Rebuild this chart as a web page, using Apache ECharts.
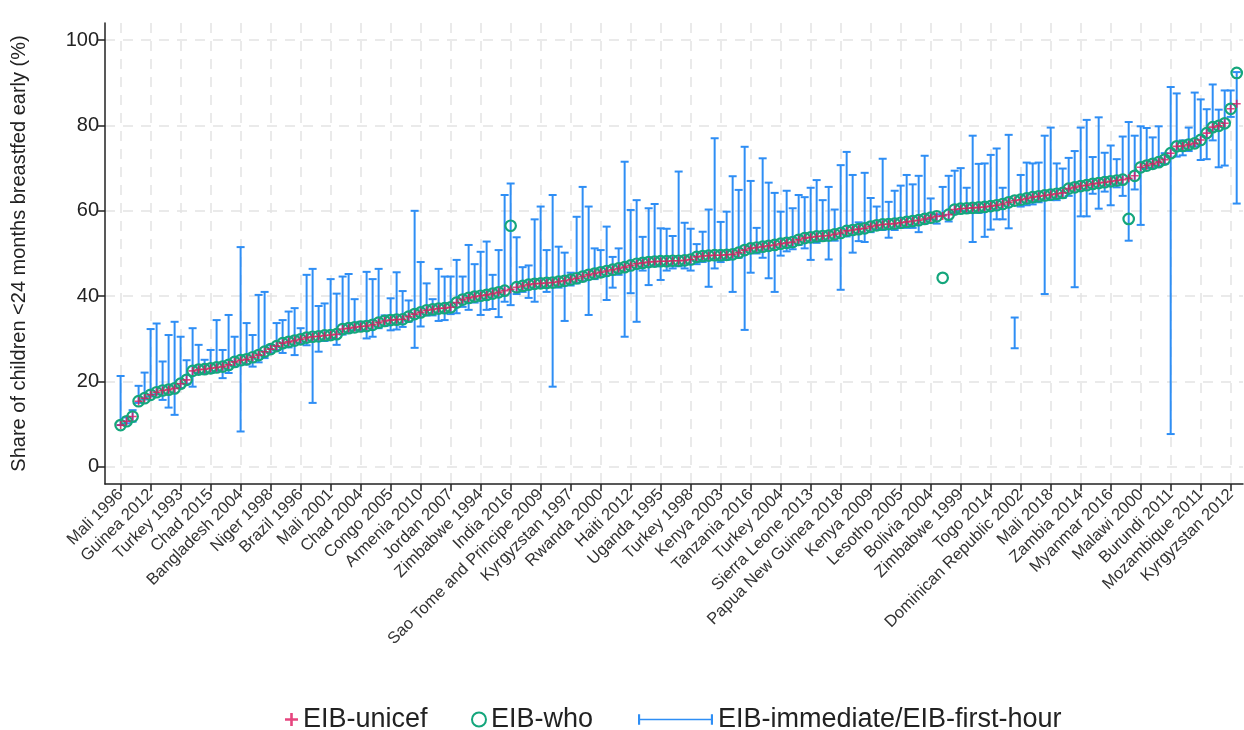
<!DOCTYPE html>
<html>
<head>
<meta charset="utf-8">
<script src="https://cdn.jsdelivr.net/npm/echarts@6/dist/echarts.min.js"></script>
<style>
html,body{margin:0;padding:0;background:#fff;}
#chart{width:1244px;height:730px;}
</style>
</head>
<body>
<div id="chart"></div>
<script>
// Labels shown every 5th survey along the x axis
const tickLabels = ["Mali 1996","Guinea 2012","Turkey 1993","Chad 2015","Bangladesh 2004","Niger 1998","Brazil 1996","Mali 2001","Chad 2004","Congo 2005","Armenia 2010","Jordan 2007","Zimbabwe 1994","India 2016","Sao Tome and Principe 2009","Kyrgyzstan 1997","Rwanda 2000","Haiti 2012","Uganda 1995","Turkey 1998","Kenya 2003","Tanzania 2016","Turkey 2004","Sierra Leone 2013","Papua New Guinea 2018","Kenya 2009","Lesotho 2005","Bolivia 2004","Zimbabwe 1999","Togo 2014","Dominican Republic 2002","Mali 2018","Zambia 2014","Myanmar 2016","Malawi 2000","Burundi 2011","Mozambique 2011","Kyrgyzstan 2012"];
const yTicks = [0,20,40,60,80,100];

// EIB-unicef (sorted)
const eibUnicef = [
9.8,10.7,11.8,15.4,16.1,16.9,17.5,17.9,18.1,18.4,
19.5,20.4,22.5,22.8,22.9,23.1,23.3,23.5,23.9,24.6,
25.0,25.2,25.7,26.2,27.0,27.6,28.3,29.0,29.3,29.6,
29.9,30.3,30.5,30.6,30.8,30.9,31.1,32.3,32.5,32.7,
32.9,33.0,33.3,33.8,34.2,34.4,34.5,34.6,35.2,35.8,
36.2,36.7,36.9,37.1,37.2,37.4,38.5,39.2,39.6,39.9,
40.1,40.3,40.6,40.9,41.3,41.6,42.1,42.4,42.7,42.9,
43.0,43.1,43.2,43.4,43.6,43.9,44.2,44.6,45.0,45.3,
45.6,45.9,46.2,46.5,46.8,47.2,47.6,47.8,48.0,48.1,
48.2,48.2,48.3,48.3,48.4,48.6,49.2,49.4,49.5,49.6,
49.6,49.7,49.8,50.2,50.8,51.2,51.4,51.6,51.8,52.0,
52.3,52.5,52.7,53.2,53.6,53.8,54.0,54.1,54.2,54.5,
54.8,55.3,55.5,55.7,55.9,56.3,56.6,56.8,56.9,57.0,
57.2,57.4,57.6,57.8,58.1,58.4,58.7,58.8,59.1,60.3,
60.5,60.6,60.7,60.8,60.9,61.1,61.3,61.6,62.0,62.4,
62.6,62.9,63.2,63.4,63.6,63.8,64.0,64.2,65.2,65.5,
65.8,66.0,66.3,66.5,66.7,66.9,67.1,67.3,67.6,68.2,
70.2,70.6,71.0,71.4,72.0,73.5,75.1,75.2,75.5,75.8,
76.6,78.2,79.6,79.9,80.5,83.9,85.1
];

// EIB-who
const eibWho = [
9.8,10.7,11.8,15.4,16.1,16.9,17.5,17.9,18.1,18.4,
19.5,20.4,22.5,22.8,22.9,23.1,23.3,23.5,23.9,24.6,
25.0,25.2,25.7,26.2,27.0,27.6,28.3,29.0,29.3,29.6,
29.9,30.3,30.5,30.6,30.8,30.9,31.1,32.3,32.5,32.7,
32.9,33.0,33.3,33.8,34.2,34.4,34.5,34.6,35.2,35.8,
36.2,36.7,36.9,37.1,37.2,37.4,38.5,39.2,39.6,39.9,
40.1,40.3,40.6,40.9,41.3,56.5,42.1,42.4,42.7,42.9,
43.0,43.1,43.2,43.4,43.6,43.9,44.2,44.6,45.0,45.3,
45.6,45.9,46.2,46.5,46.8,47.2,47.6,47.8,48.0,48.1,
48.2,48.2,48.3,48.3,48.4,48.6,49.2,49.4,49.5,49.6,
49.6,49.7,49.8,50.2,50.8,51.2,51.4,51.6,51.8,52.0,
52.3,52.5,52.7,53.2,53.6,53.8,54.0,54.1,54.2,54.5,
54.8,55.3,55.5,55.7,55.9,56.3,56.6,56.8,56.9,57.0,
57.2,57.4,57.6,57.8,58.1,58.4,58.7,44.3,59.1,60.3,
60.5,60.6,60.7,60.8,60.9,61.1,61.3,61.6,62.0,62.4,
62.6,62.9,63.2,63.4,63.6,63.8,64.0,64.2,65.2,65.5,
65.8,66.0,66.3,66.5,66.7,66.9,67.1,67.3,58.1,68.2,
70.2,70.6,71.0,71.4,72.0,73.5,75.1,75.2,75.5,75.8,
76.6,78.2,79.6,79.9,80.5,83.9,92.3
];

// EIB-immediate (low end of the bar)
const eibImmediate = [
9.8,10.2,10.6,15.0,15.8,16.5,17.0,15.7,13.9,12.2,
18.5,19.5,18.8,22.0,22.0,22.0,22.5,20.8,22.0,23.5,
8.3,24.0,23.5,24.5,25.5,26.8,27.4,26.7,28.0,26.2,
29.0,28.5,15.0,27.0,29.5,30.0,28.6,31.0,31.5,32.0,
32.0,30.1,30.5,32.5,33.0,32.0,32.2,32.8,34.0,27.9,
32.9,35.5,35.5,34.2,34.4,35.8,36.0,37.5,36.8,38.5,
35.6,36.8,37.0,35.1,38.7,37.9,40.5,41.0,39.6,38.7,
42.0,41.0,18.8,42.0,34.2,42.5,43.0,43.5,35.6,44.0,
44.5,39.1,42.0,45.0,30.5,40.7,34.0,46.0,42.6,47.0,
43.8,46.0,46.5,47.0,46.5,46.0,47.5,48.0,42.2,46.5,
48.0,48.5,41.0,49.0,32.1,45.5,50.0,49.0,44.2,41.0,
49.5,50.5,51.0,52.0,51.2,48.5,52.5,53.0,48.6,53.0,
41.5,54.0,50.2,52.9,52.7,55.0,55.5,55.5,53.7,55.5,
56.0,56.0,56.0,55.0,57.0,58.0,57.0,59.0,57.5,59.5,
60.0,59.5,52.7,59.5,53.9,55.6,58.0,58.0,55.9,27.8,
61.0,61.3,61.5,62.0,40.5,62.5,62.5,63.0,63.5,42.1,
58.7,58.7,64.0,60.5,64.5,61.3,65.5,63.5,53.0,65.0,
56.7,70.0,70.0,70.5,71.0,7.7,72.7,73.0,74.0,75.1,
71.9,72.1,76.5,70.2,70.6,82.0,61.7
];

// EIB-first-hour (high end of the bar)
const eibFirstHour = [
21.3,11.6,13.3,19.0,22.1,32.3,33.6,24.7,30.9,34.0,
30.5,25.0,32.5,28.6,25.1,27.4,34.4,27.4,35.6,30.5,
51.5,33.7,30.9,40.3,41.0,28.5,33.7,34.4,36.4,37.2,
32.5,45.0,46.4,37.7,38.3,44.0,40.6,44.6,45.2,39.3,
34.0,45.7,44.0,46.4,35.5,39.5,45.6,41.2,39.0,60.0,
48.0,43.0,39.3,46.4,44.6,44.6,48.5,44.6,52.0,47.5,
50.4,52.8,45.0,50.8,63.7,66.4,53.8,46.8,47.2,58.0,
61.0,50.8,63.7,51.6,50.2,45.5,58.6,65.6,61.0,51.2,
50.8,56.3,49.2,51.2,71.5,60.2,62.5,53.9,60.6,61.6,
55.9,55.8,54.1,69.2,57.2,55.8,52.2,55.1,60.3,77.0,
57.4,59.8,68.1,64.9,75.0,67.0,56.0,72.3,66.6,64.2,
59.8,64.7,60.6,63.7,63.2,65.4,67.2,62.5,65.6,60.3,
70.7,73.8,68.4,57.3,68.9,63.0,61.0,72.2,62.1,64.7,
65.9,68.4,66.2,68.2,72.9,62.9,59.2,65.6,68.2,69.4,
70.0,65.4,77.6,71.0,71.1,73.1,74.6,65.4,77.8,35.0,
68.4,71.3,71.1,71.3,77.6,79.5,71.1,69.9,72.4,74.0,
79.5,81.3,72.6,81.9,73.6,75.3,72.1,77.4,80.8,77.6,
79.8,79.4,77.2,79.8,73.5,89.0,87.5,76.5,79.5,87.7,
86.1,83.8,89.6,83.7,88.2,88.2,92.5
];

const FONT = 'Liberation Sans, Arial, Helvetica, sans-serif';
const C_RED = '#e0175e';
const C_GREEN = '#14a67c';
const C_BLUE = '#2e8ef5';
const tickIdx = tickLabels.map((_, i) => i * 5);

const unicefData = eibUnicef.map((v, i) => [i, v]);
const whoData = eibWho.map((v, i) => [i, v]);
const barData = eibImmediate.map((v, i) => [i, v, eibFirstHour[i]]);

const plusPath = 'path://M4,0H6V4H10V6H6V10H4V6H0V4H4Z';
const barIcon = 'path://M0,0H2V10H0Z M2,4.2H68V5.8H2Z M68,0H70V10H68Z';
const legendText = {fontSize: 27, color: '#222', fontFamily: FONT};

const chart = echarts.init(document.getElementById('chart'), null, {renderer: 'canvas'});
chart.setOption({
  animation: false,
  backgroundColor: '#fff',
  textStyle: {fontFamily: FONT},
  grid: {left: 105, right: 1, top: 23, bottom: 246, containLabel: false},
  legend: [
    {data: ['EIB-unicef'], left: 280, top: 701, itemWidth: 13, itemHeight: 13, itemGap: 0, textStyle: legendText},
    {data: ['EIB-who'], left: 466, top: 701, itemWidth: 14, itemHeight: 14, itemGap: 0, textStyle: legendText},
    {data: [{name: 'EIB-immediate/EIB-first-hour', icon: barIcon}], left: 633, top: 701,
     itemWidth: 75, itemHeight: 12, itemGap: 0, textStyle: legendText}
  ],
  xAxis: {
    type: 'value', min: -2.6, max: 187.05,
    axisLine: {show: true, onZero: false, lineStyle: {color: '#222', width: 1.5}},
    axisTick: {show: true, length: 7, customValues: tickIdx, lineStyle: {color: '#222', width: 1.5}},
    axisLabel: {customValues: tickIdx, rotate: 45, fontSize: 16.5, color: '#333', margin: 8, fontFamily: FONT,
      formatter: v => tickLabels[Math.round(v / 5)] || ''},
    splitLine: {show: true, lineStyle: {color: '#e4e4e4', width: 1.5, type: [10, 8]}}
  },
  yAxis: {
    type: 'value', min: -4, max: 104,
    name: 'Share of children <24 months breastfed early (%)',
    nameLocation: 'middle', nameGap: 76, nameRotate: 90,
    nameTextStyle: {fontSize: 20, color: '#222', fontFamily: FONT},
    axisLine: {show: true, onZero: false, lineStyle: {color: '#222', width: 1.5}},
    axisTick: {show: true, length: 7, customValues: yTicks, lineStyle: {color: '#222', width: 1.5}},
    axisLabel: {customValues: yTicks, fontSize: 20, color: '#222', margin: 6, fontFamily: FONT},
    splitLine: {show: true, lineStyle: {color: '#e4e4e4', width: 1.5, type: [10, 8]}}
  },
  series: [
    {
      name: 'EIB-immediate/EIB-first-hour', type: 'custom', z: 1,
      itemStyle: {color: C_BLUE},
      encode: {x: 0, y: [1, 2]},
      data: barData,
      renderItem: function (params, api) {
        const x = api.value(0), lo = api.value(1), hi = api.value(2);
        const a = api.coord([x, lo]), b = api.coord([x, hi]);
        const cap = 4;
        const st = {stroke: C_BLUE, lineWidth: 2};
        return {type: 'group', children: [
          {type: 'line', shape: {x1: a[0], y1: a[1], x2: b[0], y2: b[1]}, style: st},
          {type: 'line', shape: {x1: a[0] - cap, y1: a[1], x2: a[0] + cap, y2: a[1]}, style: st},
          {type: 'line', shape: {x1: b[0] - cap, y1: b[1], x2: b[0] + cap, y2: b[1]}, style: st}
        ]};
      }
    },
    {
      name: 'EIB-who', type: 'scatter', z: 2, symbol: 'circle', symbolSize: 10.5,
      itemStyle: {color: 'rgba(255,255,255,0)', borderColor: C_GREEN, borderWidth: 2.2, opacity: 1},
      data: whoData
    },
    {
      name: 'EIB-unicef', type: 'scatter', z: 3, symbol: plusPath, symbolSize: 8,
      itemStyle: {color: C_RED},
      data: unicefData
    }
  ]
});
</script>
</body>
</html>
